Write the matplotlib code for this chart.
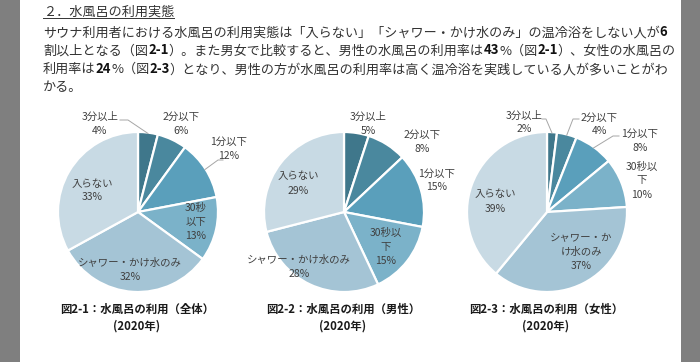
import matplotlib
matplotlib.use("Agg")
import matplotlib.pyplot as plt
from matplotlib.patches import Rectangle
import numpy as np

W, H = 700, 362
FONT = ['Noto Sans CJK JP', 'DejaVu Sans']
plt.rcParams['font.family'] = FONT

# ---------------- data ----------------
categories = ["3分以上", "2分以下", "1分以下", "30秒以下", "シャワー・かけ水のみ", "入らない"]
values_all = [4, 6, 12, 13, 32, 33]
values_male = [5, 8, 15, 15, 28, 29]
values_female = [2, 4, 8, 10, 37, 39]
caption_titles = ["図2-1：水風呂の利用（全体）", "図2-2：水風呂の利用（男性）", "図2-3：水風呂の利用（女性）"]
caption_year = "(2020年)"

header = "２．水風呂の利用実態"
body_runs = [
    [("サウナ利用者における水風呂の利用実態は「入らない」「シャワー・かけ水のみ」の温冷浴をしない人が", False), ("6", True)],
    [("割以上となる（図", False), ("2-1", True), ("）。また男女で比較すると、男性の水風呂の利用率は", False),
     ("43", True), ("%（図", False), ("2-1", True), ("）、女性の水風呂の", False)],
    [("利用率は", False), ("24", True), ("%（図", False), ("2-3", True),
     ("）となり、男性の方が水風呂の利用率は高く温冷浴を実践している人が多いことがわ", False)],
    [("かる。", False)],
]

# ---------------- style / layout ----------------
colors = ['#3F778B', '#4A889E', '#5A9FBB', '#7BB2C9', '#A4C4D5', '#C8DAE4']
pie_centers = [(138, 212), (344, 212), (547, 212)]   # image pixel coords
pie_radius = 80
label_color = '#404040'
lead_color = '#A6A6A6'

# label block centres (image coords) and wrap index per category
label_pos = [
    [(100, 124), (181, 124), (229, 149), (196, 222), (130, 270), (92, 190.5)],
    [(368, 123.5), (422, 142), (437, 180.5), (386, 247), (299, 267), (298, 183.5)],
    [(524, 122.5), (599, 124.5), (640, 141), (642, 180.5), (581, 252), (495, 201.5)],
]
wraps = [
    {3: 3},
    {3: 4},
    {3: 4, 4: 6},
]
# leader lines: label-side points (image coords); last point goes to the wedge edge
leaders = [
    {0: [(120, 120), (128, 120)], 2: [(223, 160), (218, 160)]},
    {},
    {0: [(542, 119), (546, 119)], 1: [(579, 119), (573, 119)], 2: [(619, 136), (613, 136)]},
]
LINE_STEP = 14
LABEL_SIZE = 7.5

fig = plt.figure(figsize=(W / 100, H / 100), dpi=100)
fig.patch.set_facecolor('#7F7F7F')
ax = fig.add_axes([0, 0, 1, 1])
ax.set_xlim(0, W)
ax.set_ylim(0, H)
ax.axis('off')
ax.add_patch(Rectangle((20, 0), 661, H, facecolor='white', edgecolor='none', zorder=0))


def Y(y):
    return H - y


# ---------------- body text ----------------
renderer = fig.canvas.get_renderer()
TXT = '#333333'
BODY_SIZE = 9.45
x0 = 43
ht = ax.text(x0, Y(16), header, fontsize=BODY_SIZE, color=TXT, va='baseline', ha='left')
bb = ht.get_window_extent(renderer=renderer)
ax.plot([x0, x0 + bb.width], [Y(17.6), Y(17.6)], color=TXT, lw=0.7)

baselines = [36, 54.5, 73, 91.5]
for runs, base in zip(body_runs, baselines):
    x = x0
    for s, bold in runs:
        t = ax.text(x, Y(base), s, fontsize=BODY_SIZE, color=TXT if not bold else '#111111',
                    fontweight='bold' if bold else 'normal', va='baseline', ha='left')
        x += t.get_window_extent(renderer=renderer).width

# ---------------- pies ----------------
all_values = [values_all, values_male, values_female]
for p, vals in enumerate(all_values):
    cx, cy = pie_centers[p]
    wedges, _ = ax.pie(vals, colors=colors, startangle=90, counterclock=False,
                       center=(cx, Y(cy)), radius=pie_radius, frame=True,
                       wedgeprops=dict(edgecolor='white', linewidth=1.6))
    for i, (cat, v) in enumerate(zip(categories, vals)):
        k = wraps[p].get(i)
        lines = [cat] if k is None else [cat[:k], cat[k:]]
        lines = lines + [f"{v}%"]
        lx, ly = label_pos[p][i]
        n = len(lines)
        for j, s in enumerate(lines):
            yy = ly + (j - (n - 1) / 2) * LINE_STEP
            ax.text(lx, Y(yy), s, fontsize=LABEL_SIZE, color=label_color, ha='center', va='center', zorder=5)
        if i in leaders[p]:
            w = wedges[i]
            mid = np.deg2rad((w.theta1 + w.theta2) / 2)
            ex = cx + pie_radius * 0.99 * np.cos(mid)
            ey = Y(cy) + pie_radius * 0.99 * np.sin(mid)
            pts = leaders[p][i]
            xs = [q[0] for q in pts] + [ex]
            ys = [Y(q[1]) for q in pts] + [ey]
            ax.plot(xs, ys, color=lead_color, lw=0.7, zorder=4)

    tx = cx - 1
    ax.text(tx, Y(309), caption_titles[p], fontsize=8.2, fontweight='bold', color='#1A1A1A',
            ha='center', va='center')
    ax.text(tx, Y(326), caption_year, fontsize=8.2, fontweight='bold', color='#1A1A1A',
            ha='center', va='center')

ax.set_xlim(0, W)
ax.set_ylim(0, H)
ax.set_aspect('auto')
fig.savefig('out.png', dpi=100, facecolor=fig.get_facecolor())
